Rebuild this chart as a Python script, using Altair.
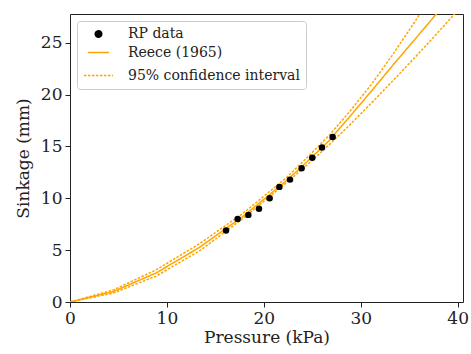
import altair as alt
import pandas as pd

rp_pressure = [16.1, 17.3, 18.4, 19.5, 20.6, 21.6, 22.7, 23.9, 25.0, 26.0, 27.1]
rp_sinkage = [6.9, 8.0, 8.4, 9.0, 10.0, 11.1, 11.8, 12.9, 13.9, 14.9, 15.9]

# Fitted curve samples
fit_pressure = [0.0, 4.44, 8.89, 13.33, 17.78, 22.22, 24.44, 26.67, 28.89, 31.11, 33.33, 35.56, 37.78, 40.0]
fit_reece = [0.0, 1.0, 2.8, 5.25, 8.2, 11.6, 13.5, 15.5, 17.9, 20.35, 22.85, 25.3, 27.75, 30.25]
fit_upper = [0.0, 1.15, 3.1, 5.6, 8.5, 11.9, 13.9, 16.0, 18.4, 21.0, 23.9, 27.0, 30.2, 33.5]
fit_lower = [0.0, 0.85, 2.5, 4.9, 8.0, 11.4, 13.2, 15.1, 17.1, 19.2, 21.35, 23.55, 25.8, 28.1]

series_names = ["RP data", "Reece (1965)", "95% confidence interval"]

pts = pd.DataFrame({"p": rp_pressure, "z": rp_sinkage, "series": series_names[0]})
lines = pd.concat([
    pd.DataFrame({"p": fit_pressure, "z": fit_reece, "series": series_names[1], "line": "fit"}),
    pd.DataFrame({"p": fit_pressure, "z": fit_upper, "series": series_names[2], "line": "upper"}),
    pd.DataFrame({"p": fit_pressure, "z": fit_lower, "series": series_names[2], "line": "lower"}),
])

FONT = "DejaVu Serif"
ORANGE = "#FFA500"

xenc = alt.X("p:Q", title="Pressure (kPa)",
             scale=alt.Scale(domain=[0, 40.55], nice=False, zero=False),
             axis=alt.Axis(values=[0, 10, 20, 30, 40]))
yenc = alt.Y("z:Q", title="Sinkage (mm)",
             scale=alt.Scale(domain=[0, 27.77], nice=False, zero=False),
             axis=alt.Axis(values=[0, 5, 10, 15, 20, 25]))

color = alt.Color("series:N", sort=series_names,
                  scale=alt.Scale(domain=series_names, range=["black", ORANGE, ORANGE]),
                  legend=alt.Legend(title=None))

line_layer = alt.Chart(lines).mark_line(clip=True).encode(
    x=xenc, y=yenc, color=color, detail="line:N",
    strokeDash=alt.StrokeDash("series:N", sort=series_names,
                              scale=alt.Scale(domain=series_names, range=[[1, 0], [1, 0], [2.5, 1.5]]),
                              legend=alt.Legend(title=None)),
    strokeWidth=alt.StrokeWidth("series:N", sort=series_names,
                                scale=alt.Scale(domain=series_names, range=[1.5, 1.5, 0.9]),
                                legend=alt.Legend(title=None)),
    opacity=alt.Opacity("series:N", sort=series_names,
                        scale=alt.Scale(domain=series_names, range=[1, 1, 0.5]),
                        legend=alt.Legend(title=None)),
)

point_layer = alt.Chart(pts).mark_point(filled=True, clip=True, opacity=1).encode(
    x=xenc, y=yenc, color=color,
    shape=alt.Shape("series:N", sort=series_names,
                    scale=alt.Scale(domain=series_names, range=["circle", "stroke", "stroke"]),
                    legend=alt.Legend(title=None)),
    size=alt.Size("series:N", sort=series_names,
                  scale=alt.Scale(domain=series_names, range=[42, 841, 841]),
                  legend=alt.Legend(title=None)),
)

chart = alt.layer(line_layer, point_layer).properties(
    width=393, height=288,
    autosize=alt.AutoSizeParams(type="none"),
    padding={"left": 70, "top": 14, "right": 8, "bottom": 52},
).configure_view(
    stroke="#222", strokeWidth=1
).configure_axis(
    domain=False, grid=False, labelFlush=False,
    labelFont=FONT, titleFont=FONT, labelFontSize=17, titleFontSize=17,
    labelColor="#222", titleColor="#222", tickColor="#222",
    tickSize=5, labelPadding=3, titleFontWeight="normal",
).configure_axisX(titlePadding=3).configure_axisY(titlePadding=8).configure_legend(
    orient="top-left", offset=7, padding=6,
    strokeColor="#cccccc", fillColor="white", cornerRadius=3,
    labelFont=FONT, labelFontSize=14, labelColor="#222", labelLimit=0,
    rowPadding=-7, labelOffset=14,
)

chart.save("out.html", embed_options={"renderer": "svg", "actions": False})
